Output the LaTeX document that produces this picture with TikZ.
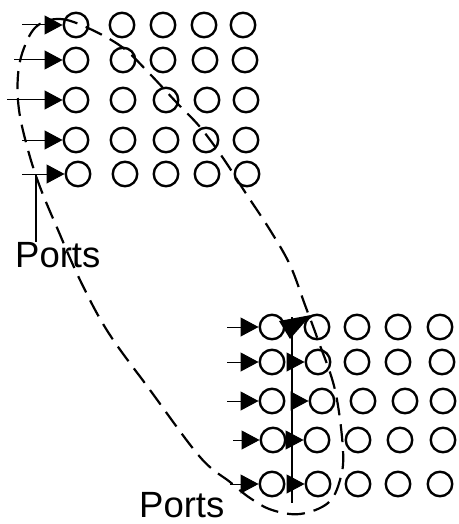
\documentclass[tikz,border=0pt]{standalone}
\usepackage{fontspec}
\setmainfont{Liberation Sans}
\usetikzlibrary{arrows.meta}
\newcommand\portrow[8]{%
  \node[port] (#1#21) at (#4,#3) {};
  \node[port] (#1#22) at (#5,#3) {};
  \node[port] (#1#23) at (#6,#3) {};
  \node[port] (#1#24) at (#7,#3) {};
  \node[port] (#1#25) at (#8,#3) {};}
\begin{document}
\begin{tikzpicture}[x=1pt,y=-1pt,
  port/.style={circle,draw,line width=2.4pt,minimum size=24.5pt,inner sep=0pt},
  feed/.style={line width=1pt,-{Triangle[length=18pt,width=19pt]}},
  loopline/.style={line width=2.2pt,dash pattern=on 18pt off 9pt},
  lbl/.style={inner sep=0pt,anchor=base west,font=\fontsize{36.5}{40}\selectfont}]
\useasboundingbox (0,0) rectangle (458,524);
% top grid
\portrow{t}{1}{25}{76}{122}{163}{204}{243}
\portrow{t}{2}{60}{76}{123}{163}{205}{245}
\portrow{t}{3}{100}{76}{123}{166}{207}{246}
\portrow{t}{4}{140}{76}{123}{166}{206}{246}
\portrow{t}{5}{174}{78}{125}{166}{207}{247}
% bottom grid
\portrow{b}{1}{327}{272}{317}{357}{398}{440}
\portrow{b}{2}{362}{272}{318}{357}{398}{442}
\portrow{b}{3}{401}{272}{322}{363}{405}{443}
\portrow{b}{4}{440}{273}{317}{358}{400}{443}
\portrow{b}{5}{484}{272}{318}{358}{398}{440}
% input arrows top
\coordinate (ta1) at (22,25);
\coordinate (ta2) at (14,60);
\coordinate (ta3) at (7,100);
\coordinate (ta4) at (22,140);
\coordinate (ta5) at (22,174);
\foreach \i in {1,...,5} \draw[feed] (ta\i) -- (t\i1.west);
% input arrows bottom
\coordinate (ba1) at (227,327);
\coordinate (ba2) at (227,362);
\coordinate (ba3) at (227,401);
\coordinate (ba4) at (233,440);
\coordinate (ba5) at (230,484);
\foreach \i in {1,...,5} \draw[feed] (ba\i) -- (b\i1.west);
% vertical bus
\coordinate (vt) at (292,317);
\coordinate (vb) at (292,503);
\draw[line width=2.4pt] (vt) -- (vb);
\fill (279,321) -- (311,315) -- (290,339) -- cycle;
\foreach \i in {2,...,5} \draw[feed] (vt |- b\i2.west) -- (b\i2.west);
% labels
\node[lbl] (P1) at (15,267) {Ports};
\node[lbl] (P2) at (139,517) {Ports};
\coordinate (pl) at (36,175);
\draw[line width=2pt] (pl) -- (pl |- P1.north);
% dashed loop
\draw[loopline] plot[smooth cycle, tension=0.6] coordinates {
 (37,26) (60,19) (88,28) (122,47) (148,72) (177,103) (200,127) (223,158)
 (245,192) (270,230) (290,265) (305,305) (318,340) (335,390) (343,450)
 (340,480) (328,503) (300,514) (272,510) (250,498) (230,482) (200,457)
 (150,390) (108,332) (80,280) (58,230) (40,187) (28,150) (19,110) (18,75) (24,48)};
\end{tikzpicture}
\end{document}
